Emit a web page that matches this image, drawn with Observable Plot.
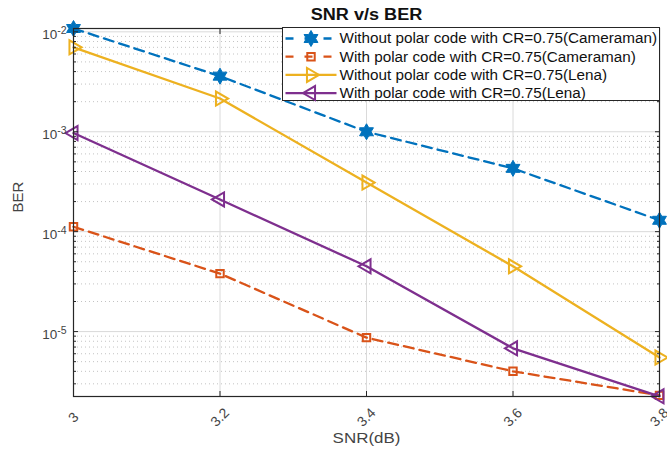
<!DOCTYPE html>
<html>
<head>
<meta charset="utf-8">
<script src="https://cdn.jsdelivr.net/npm/d3@7"></script>
<script src="https://cdn.jsdelivr.net/npm/@observablehq/plot@0.6"></script>
<style>
  html, body { margin: 0; padding: 0; background: #fff; overflow: hidden; }
  #chart svg { display: block; }
</style>
</head>
<body>
<div id="chart"></div>
<script>
// SNR (dB) on the x axis
const snr = [3, 3.2, 3.4, 3.6, 3.8];

// BER per configuration
const berCameramanNoPolar = [1.08e-2, 3.6e-3, 1.0e-3, 4.3e-4, 1.3e-4];
const berCameramanPolar   = [1.12e-4, 3.8e-5, 8.7e-6, 4.0e-6, 2.3e-6];
const berLenaNoPolar      = [7.0e-3, 2.15e-3, 3.1e-4, 4.5e-5, 5.5e-6];
const berLenaPolar        = [9.7e-4, 2.1e-4, 4.5e-5, 6.8e-6, 2.25e-6];

const seriesNames = [
  "Without polar code with CR=0.75(Cameraman)",
  "With polar code with CR=0.75(Cameraman)",
  "Without polar code with CR=0.75(Lena)",
  "With polar code with CR=0.75(Lena)"
];
const seriesValues = [berCameramanNoPolar, berCameramanPolar, berLenaNoPolar, berLenaPolar];

// Tick values
const xTicks = [3, 3.2, 3.4, 3.6, 3.8];
const xTickLabels = ["3", "3.2", "3.4", "3.6", "3.8"];
const yTicks = [1e-5, 1e-4, 1e-3, 1e-2];
const yTickLabels = ["10^-5", "10^-4", "10^-3", "10^-2"];
const yDomain = [2.24e-6, 1.08e-2];

const titleText = "SNR v/s BER";
const xLabel = "SNR(dB)";
const yLabel = "BER";

// Six-pointed star marker
const hexagram = {
  draw(ctx, size) {
    const R = Math.sqrt(size / Math.PI);
    const r = R / Math.sqrt(3);
    for (let k = 0; k < 12; k++) {
      const a = -Math.PI / 2 + k * Math.PI / 6;
      const rad = k % 2 === 0 ? R : r;
      const px = rad * Math.cos(a), py = rad * Math.sin(a);
      if (k === 0) ctx.moveTo(px, py); else ctx.lineTo(px, py);
    }
    ctx.closePath();
  }
};

const styles = [
  {color: "#0072BD", dash: "10,6", symbol: hexagram, r: 8, rotate: 0, fill: "#0072BD", sw: 1},
  {color: "#D95319", dash: "10,6", symbol: "square", r: 4.2, rotate: 0, fill: "none", sw: 2},
  {color: "#EDB120", dash: null, symbol: "triangle", r: 5.2, rotate: 90, fill: "none", sw: 2},
  {color: "#7E2F8E", dash: null, symbol: "triangle", r: 5.2, rotate: -90, fill: "none", sw: 2}
];

const rows = seriesValues.flatMap((vals, i) =>
  snr.map((x, j) => ({snr: x, ber: vals[j], series: i})));

const yMinor = d3.scaleLog().domain(yDomain).ticks()
  .filter(v => Math.abs(Math.log10(v) - Math.round(Math.log10(v))) > 1e-9);

const FONT = "'Liberation Sans', Arial, Helvetica, sans-serif";
const INK = "#262626";
const LABEL = "#444";
const WIDEN = 1.13; // horizontal stretch applied to the annotation texts

const seriesMarks = styles.flatMap((s, i) => {
  const d = rows.filter(r => r.series === i);
  return [
    Plot.line(d, {x: "snr", y: "ber", stroke: s.color, strokeWidth: 2.3,
      strokeDasharray: s.dash ?? undefined}),
    Plot.dot(d, {x: "snr", y: "ber", symbol: s.symbol, r: s.r, rotate: s.rotate,
      stroke: s.color, fill: s.fill, strokeWidth: s.sw})
  ];
});

const plot = Plot.plot({
  width: 667,
  height: 455,
  marginTop: 28,
  marginBottom: 59,
  marginLeft: 73,
  marginRight: 8,
  x: {domain: [3, 3.8]},
  y: {type: "log", domain: yDomain},
  style: {fontFamily: FONT, fontSize: "12px", color: LABEL, background: "white"},
  marks: [
    Plot.gridY(yMinor, {stroke: "#b4b4b4", strokeOpacity: 0.8, strokeDasharray: "1,3"}),
    Plot.gridY(yTicks, {stroke: "#dadada", strokeOpacity: 1}),
    Plot.gridX(xTicks, {stroke: "#dadada", strokeOpacity: 1}),
    ...seriesMarks,
    Plot.frame({stroke: INK, strokeWidth: 1.2}),
    // inward tick marks on all four sides
    Plot.axisY(yTicks, {anchor: "left", tickSize: -5, fill: "none", stroke: INK, label: null}),
    Plot.axisY(yTicks, {anchor: "right", tickSize: -5, fill: "none", stroke: INK, label: null}),
    Plot.axisY(yMinor, {anchor: "left", tickSize: -3, fill: "none", stroke: INK, label: null}),
    Plot.axisY(yMinor, {anchor: "right", tickSize: -3, fill: "none", stroke: INK, label: null}),
    Plot.axisX(xTicks, {anchor: "bottom", tickSize: -5, fill: "none", stroke: INK, label: null}),
    Plot.axisX(xTicks, {anchor: "top", tickSize: -5, fill: "none", stroke: INK, label: null}),
    // y tick labels (exponent formatted afterwards)
    Plot.axisY(yTicks, {anchor: "left", tickSize: 0, tickPadding: 7, label: null, dy: 3,
      tickFormat: d => yTickLabels[yTicks.indexOf(d)], fontSize: 13.5}),
    // rotated x tick labels
    Plot.text(xTicks, {x: d => d, text: (d, i) => xTickLabels[i], frameAnchor: "bottom",
      dy: 21, rotate: -45, textAnchor: "middle", lineAnchor: "middle", fontSize: 14, fill: LABEL}),
    Plot.text([xLabel], {frameAnchor: "bottom", dy: 42, lineAnchor: "middle", fontSize: 15,
      fill: LABEL, className: "wide-text"}),
    Plot.text([yLabel], {frameAnchor: "left", dx: -55, rotate: -90, lineAnchor: "middle",
      fontSize: 15, fill: LABEL}),
    Plot.text([titleText], {frameAnchor: "top", dy: -14, lineAnchor: "middle", fontSize: 16,
      fontWeight: "bold", fill: "#111", className: "wide-text"})
  ]
});

document.getElementById("chart").appendChild(plot);

// Render the "10^-k" tick labels with a raised exponent
d3.select(plot).selectAll('g[aria-label="y-axis tick label"] text').each(function () {
  const t = d3.select(this);
  const s = t.text();
  const parts = s.split("^");
  if (parts.length !== 2) return;
  t.text(null);
  t.append("tspan").text(parts[0]);
  t.append("tspan").attr("dy", "-0.45em").attr("font-size", "10.5px").text(parts[1]);
});

// Slightly widened glyphs for the title and x label
function widen(sel, k) {
  sel.each(function () {
    const w = this.getComputedTextLength();
    if (w > 0) {
      this.setAttribute("textLength", (w * k).toFixed(1));
      this.setAttribute("lengthAdjust", "spacingAndGlyphs");
    }
  });
}
widen(d3.select(plot).selectAll(".wide-text text"), WIDEN);

// Legend box in the upper-right of the axes
const svg = d3.select(plot);
const lg = svg.append("g").attr("font-family", FONT).attr("text-anchor", "start");
const bx = 282.5, by = 27.5, bw = 377, bh = 73;
lg.append("rect").attr("x", bx).attr("y", by).attr("width", bw).attr("height", bh)
  .attr("fill", "white").attr("stroke", INK).attr("stroke-width", 1);
seriesNames.forEach((name, i) => {
  const s = styles[i];
  const cy = by + 11 + i * 18.2;
  lg.append("line").attr("x1", bx + 3).attr("x2", bx + 54).attr("y1", cy).attr("y2", cy)
    .attr("stroke", s.color).attr("stroke-width", 2.3)
    .attr("stroke-dasharray", s.dash ? "8,11" : null);
  const sym = typeof s.symbol === "string"
    ? (s.symbol === "square" ? d3.symbolSquare : d3.symbolTriangle)
    : s.symbol;
  lg.append("path")
    .attr("d", d3.symbol(sym, Math.PI * s.r * s.r)())
    .attr("transform", `translate(${bx + 28.5},${cy}) rotate(${s.rotate})`)
    .attr("fill", s.fill).attr("stroke", s.color).attr("stroke-width", s.sw);
  lg.append("text").attr("x", bx + 57).attr("y", cy).attr("dy", "0.35em")
    .attr("font-size", "14px").attr("fill", "#111").text(name);
});
widen(lg.selectAll("text"), 1.09);
</script>
</body>
</html>
